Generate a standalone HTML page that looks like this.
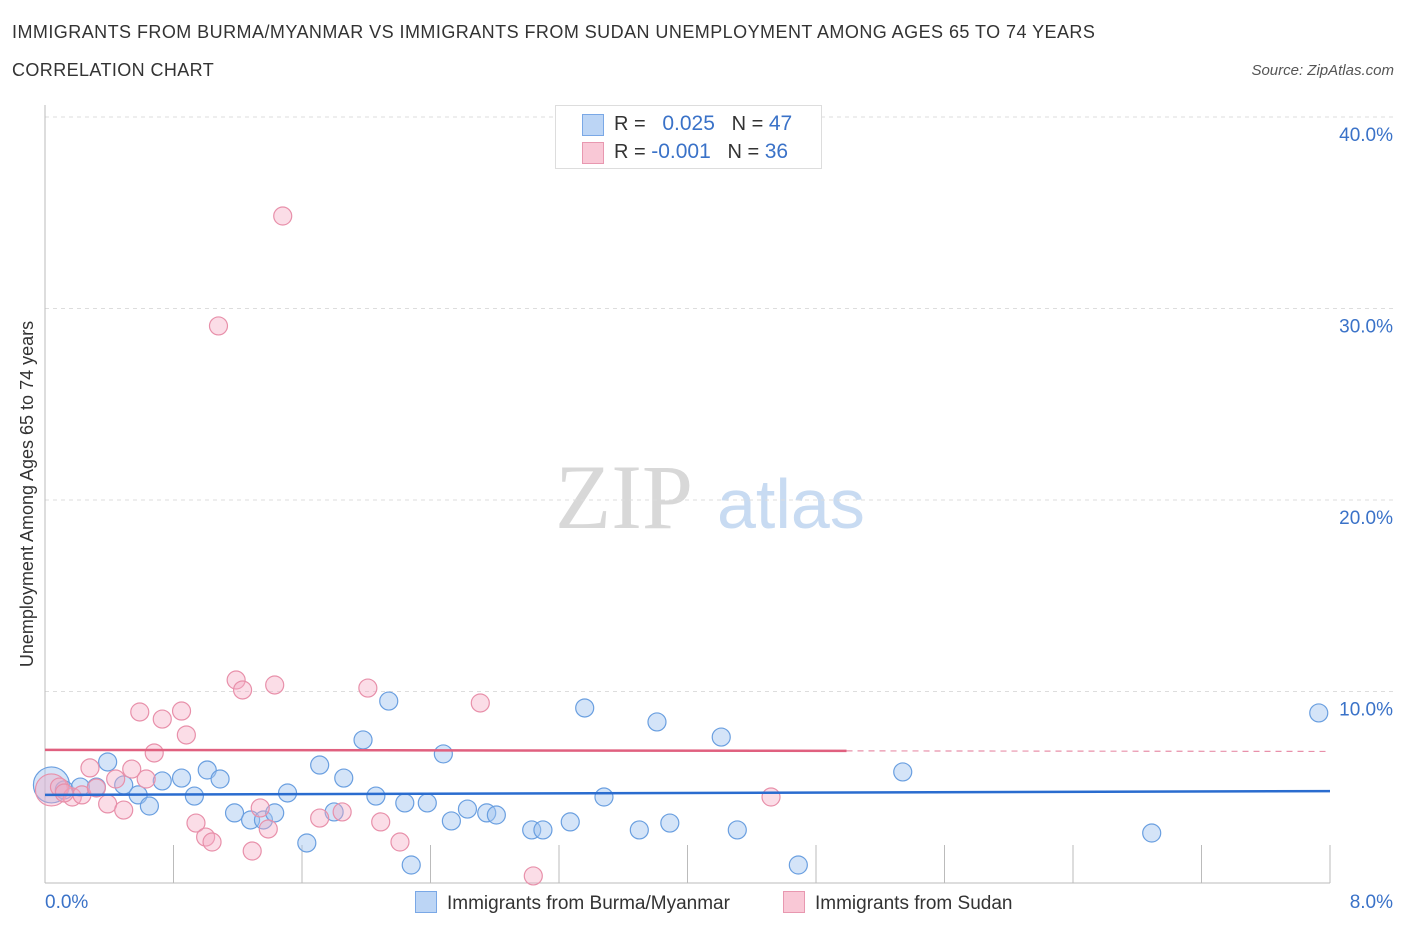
<!DOCTYPE html>
<html><head><meta charset="utf-8"><style>
body{margin:0;background:#fff;font-family:"Liberation Sans",sans-serif}
#c{position:relative;width:1406px;height:930px;overflow:hidden}
</style></head><body><div id="c">
<div style="position:absolute;left:12px;top:22px;font-size:18px;color:#333;letter-spacing:0.45px">IMMIGRANTS FROM BURMA/MYANMAR VS IMMIGRANTS FROM SUDAN UNEMPLOYMENT AMONG AGES 65 TO 74 YEARS</div>
<div style="position:absolute;left:12px;top:60px;font-size:18px;color:#333;letter-spacing:0.4px">CORRELATION CHART</div>
<div style="position:absolute;right:12px;top:62px;font-size:15px;color:#555;font-style:italic">Source: ZipAtlas.com</div>
<svg id="s" width="1406" height="930" style="position:absolute;left:0;top:0">
<text x="555" y="528" font-family="Liberation Serif,serif" font-size="92" fill="#d8d8d8">ZIP</text>
<text x="717" y="528" font-family="Liberation Sans,sans-serif" font-size="70" fill="#c8dbf2">atlas</text>
<text x="28" y="494" transform="rotate(-90 28 494)" text-anchor="middle" dominant-baseline="middle" font-size="18" fill="#333">Unemployment Among Ages 65 to 74 years</text>
</svg>
<div style="position:absolute;left:555px;top:105px;width:265px;height:62px;border:1px solid #ddd;background:#fff;font-size:20px;color:#333">
<div style="position:absolute;left:26px;top:8px;width:20px;height:20px;background:#bcd5f5;border:1px solid #7aa8e6"></div>
<div style="position:absolute;left:58px;top:6px">R = &nbsp;&nbsp;<span style="color:#3a72c8;font-size:21px">0.025</span>&nbsp;&nbsp;&nbsp;N = <span style="color:#3a72c8;font-size:21px">47</span></div>
<div style="position:absolute;left:26px;top:36px;width:20px;height:20px;background:#f9c8d6;border:1px solid #e898b0"></div>
<div style="position:absolute;left:58px;top:34px">R = <span style="color:#3a72c8;font-size:21px">-0.001</span>&nbsp;&nbsp;&nbsp;N = <span style="color:#3a72c8;font-size:21px">36</span></div>
</div>
<div style="position:absolute;left:415px;top:891px;font-size:19px;color:#333"><span style="display:inline-block;width:20px;height:20px;background:#bcd5f5;border:1px solid #7aa8e6;vertical-align:-4px;margin-right:10px"></span>Immigrants from Burma/Myanmar</div>
<div style="position:absolute;left:783px;top:891px;font-size:19px;color:#333"><span style="display:inline-block;width:20px;height:20px;background:#f9c8d6;border:1px solid #e898b0;vertical-align:-4px;margin-right:10px"></span>Immigrants from Sudan</div>
</div>
<script>
const burmaX=[0.04,0.12,0.22,0.32,0.39,0.49,0.58,0.65,0.73,0.85,0.93,1.01,1.09,1.18,1.28,1.36,1.43,1.51,1.63,1.71,1.80,1.86,1.98,2.06,2.14,2.24,2.28,2.38,2.48,2.53,2.63,2.75,2.81,3.03,3.10,3.27,3.36,3.48,3.70,3.81,3.89,4.21,4.31,4.69,5.34,6.89,7.93];
const burmaY=[5.12,4.86,5.01,5.01,6.32,5.12,4.60,4.02,5.33,5.48,4.54,5.90,5.43,3.66,3.29,3.29,3.66,4.70,2.09,6.16,3.71,5.48,7.47,4.54,9.50,4.18,0.94,4.18,6.74,3.24,3.86,3.66,3.55,2.77,2.77,3.19,9.14,4.49,2.77,8.41,3.13,7.62,2.77,0.94,5.80,2.61,8.88];
const sudanX=[0.04,0.09,0.17,0.23,0.28,0.39,0.44,0.49,0.54,0.59,0.63,0.68,0.73,0.85,0.88,0.94,1.00,1.04,1.08,1.19,1.23,1.29,1.34,1.39,1.43,1.48,1.71,1.85,2.01,2.09,2.21,2.71,3.04,4.52,0.32,0.12];
const sudanY=[4.86,5.01,4.49,4.60,6.01,4.13,5.43,3.81,5.95,8.93,5.43,6.79,8.56,8.98,7.73,3.13,2.40,2.14,29.09,10.60,10.08,1.67,3.92,2.82,10.34,34.83,3.39,3.71,10.18,3.19,2.14,9.40,0.37,4.49,4.96,4.70];
const yTicks=[10,20,30,40];
const yTickLabels=["10.0%","20.0%","30.0%","40.0%"];
const xTicks=[0,0.8,1.6,2.4,3.2,4.0,4.8,5.6,6.4,7.2,8.0];
const burmaTrend=[4.60,4.80];
const sudanTrend=[6.95,6.90];
const sudanTrendEnd=4.99;
const X=v=>45+v*1285/8, Y=v=>883-v*19.15;
const s=document.getElementById('s'),NS='http://www.w3.org/2000/svg';
function mk(t,a,name){const e=document.createElementNS(NS,t);for(const k in a)e.setAttribute(k,a[k]);


s.appendChild(e);return e;}
yTicks.forEach((t,i)=>{mk('line',{x1:45,x2:1395,y1:Y(t),y2:Y(t),stroke:'#ddd','stroke-dasharray':'4,4'},'gridline-y');
const tx=mk('text',{x:1393,y:Y(t)+24,'text-anchor':'end','font-size':19,fill:'#3a72c8'},'y-tick-label');tx.textContent=yTickLabels[i];});
mk('line',{x1:45,x2:45,y1:105,y2:883,stroke:'#bbb'},'y-axis');
mk('line',{x1:45,x2:1330,y1:883,y2:883,stroke:'#bbb'},'x-axis');
xTicks.forEach(t=>{if(t>0)mk('line',{x1:X(t),x2:X(t),y1:845,y2:883,stroke:'#bbb'},'x-tick');});
let t0=mk('text',{x:45,y:908,'font-size':19,fill:'#3a72c8'},'x-tick-label');t0.textContent='0.0%';
let t1=mk('text',{x:1393,y:908,'font-size':19,fill:'#3a72c8','text-anchor':'end'},'x-tick-label');t1.textContent='8.0%';
burmaX.forEach((x,i)=>mk('circle',{cx:X(x),cy:Y(burmaY[i]),r:i==0?18:9,fill:'rgba(160,196,240,0.45)',stroke:'#6a9fe0','stroke-width':1.2},'burma-point'));
sudanX.forEach((x,i)=>mk('circle',{cx:X(x),cy:Y(sudanY[i]),r:i==0?16:9,fill:'rgba(245,170,195,0.4)',stroke:'#e890aa','stroke-width':1.2},'sudan-point'));
mk('line',{x1:X(0),x2:X(8),y1:Y(burmaTrend[0]),y2:Y(burmaTrend[1]),stroke:'#2a6ccf','stroke-width':2.5},'burma-trendline');
const sy=v=>sudanTrend[0]+(sudanTrend[1]-sudanTrend[0])*v/sudanTrendEnd;
mk('line',{x1:X(0),x2:X(sudanTrendEnd),y1:Y(sy(0)),y2:Y(sy(sudanTrendEnd)),stroke:'#e0607f','stroke-width':2.5},'sudan-trendline');
mk('line',{x1:X(sudanTrendEnd),x2:X(8),y1:Y(sy(sudanTrendEnd)),y2:Y(sy(8)),stroke:'#e890aa','stroke-width':1.2,'stroke-dasharray':'6,5'},'sudan-trendline-extension');
</script></body></html>
